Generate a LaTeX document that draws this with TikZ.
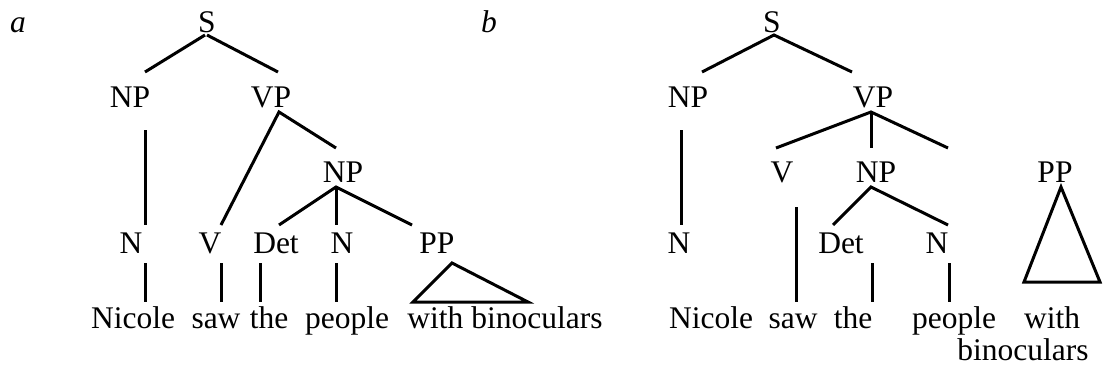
\documentclass[tikz,border=0pt]{standalone}
\usepackage{fontspec}
\setmainfont{Liberation Serif}
\begin{document}
\begin{tikzpicture}[x=1pt,y=-1pt,
  lbl/.style={anchor=base,inner sep=0pt,outer sep=0pt,font=\fontsize{31.5}{36}\selectfont},
  ital/.style={lbl,font=\fontsize{31.5}{36}\selectfont\itshape},
  edge/.style={line width=3pt,line cap=butt,line join=miter}]
\useasboundingbox (0,0) rectangle (1106,369);
% ---------- tree a ----------
\node[ital] (a) at (18,33) {a};
\node[lbl] (S1) at (207,33) {S};
\node[lbl] (NP1) at (130,107) {NP};
\node[lbl] (VP1) at (271,107) {VP};
\node[lbl] (NP2) at (343,182) {NP};
\node[lbl] (N1) at (131,253) {N};
\node[lbl] (V1) at (210,253) {V};
\node[lbl] (Det1) at (276,253) {Det};
\node[lbl] (N2) at (342,253) {N};
\node[lbl] (PP1) at (437,253) {PP};
\node[lbl] (w1) at (133,328) {Nicole};
\node[lbl] (w2) at (216,328) {saw};
\node[lbl] (w3) at (269,328) {the};
\node[lbl] (w4) at (347,328) {people};
\node[lbl] (w5) at (505,328) {with binoculars};
\draw[edge] ([shift={(-2,2)}]S1.base) -- ([shift={(15,-35)}]NP1.base);
\draw[edge] ([shift={(0,2)}]S1.base) -- ([shift={(7,-35)}]VP1.base);
\draw[edge] ([shift={(15,23)}]NP1.base) -- ([shift={(14,-28)}]N1.base);
\draw[edge] ([shift={(11,-28)}]V1.base) -- ([shift={(8,5)}]VP1.base) -- ([shift={(-7,-34)}]NP2.base);
\draw[edge] ([shift={(3,-28)}]Det1.base) -- ([shift={(-7,5)}]NP2.base) -- ([shift={(-25,-28)}]PP1.base);
\draw[edge] ([shift={(-7,5)}]NP2.base) -- ([shift={(-6,-28)}]N2.base);
\draw[edge] ([shift={(14,10)}]N1.base) -- ([shift={(12,-26)}]w1.base);
\draw[edge] ([shift={(11,10)}]V1.base) -- ([shift={(5,-26)}]w2.base);
\draw[edge] ([shift={(-16,10)}]Det1.base) -- ([shift={(-9,-26)}]w3.base);
\draw[edge] ([shift={(-6,10)}]N2.base) -- ([shift={(-11,-26)}]w4.base);
\draw[edge] ([shift={(15,10)}]PP1.base) -- ([shift={(-92,-26)}]w5.base) -- ([shift={(23,-26)}]w5.base) -- cycle;
% ---------- tree b ----------
\node[ital] (b) at (489,33) {b};
\node[lbl] (S2) at (772,33) {S};
\node[lbl] (NP3) at (688,107) {NP};
\node[lbl] (VP2) at (873,107) {VP};
\node[lbl] (V2) at (782,182) {V};
\node[lbl] (NP4) at (876,182) {NP};
\node[lbl] (PP2) at (1055,182) {PP};
\node[lbl] (N3) at (679,253) {N};
\node[lbl] (Det2) at (841,253) {Det};
\node[lbl] (N4) at (937,253) {N};
\node[lbl] (u1) at (711,328) {Nicole};
\node[lbl] (u2) at (793,328) {saw};
\node[lbl] (u3) at (853,328) {the};
\node[lbl] (u4) at (954,328) {people};
\node[lbl] (u5) at (1052,328) {with};
\node[lbl] (u6) at (1023,360) {binoculars};
\coordinate (vpfree) at (948,148);
\draw[edge] ([shift={(14,-35)}]NP3.base) -- ([shift={(2,2)}]S2.base) -- ([shift={(-21,-35)}]VP2.base);
\draw[edge] ([shift={(-7,23)}]NP3.base) -- ([shift={(2,-28)}]N3.base);
\draw[edge] ([shift={(-6,-34)}]V2.base) -- ([shift={(-2,5)}]VP2.base) -- (vpfree);
\draw[edge] ([shift={(-2,5)}]VP2.base) -- ([shift={(-5,-34)}]NP4.base);
\draw[edge] ([shift={(-8,-28)}]Det2.base) -- ([shift={(-5,5)}]NP4.base) -- ([shift={(11,-28)}]N4.base);
\draw[edge] ([shift={(14,25)}]V2.base) -- ([shift={(3,-26)}]u2.base);
\draw[edge] ([shift={(31,10)}]Det2.base) -- ([shift={(19,-26)}]u3.base);
\draw[edge] ([shift={(12,10)}]N4.base) -- ([shift={(-5,-26)}]u4.base);
\draw[edge] ([shift={(6,5)}]PP2.base) -- ([shift={(-28,-46)}]u5.base) -- ([shift={(48,-46)}]u5.base) -- cycle;
\end{tikzpicture}
\end{document}
